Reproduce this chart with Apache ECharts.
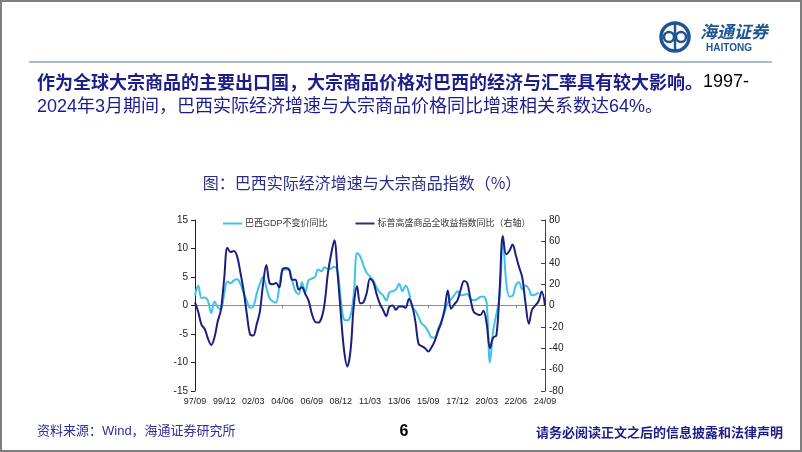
<!DOCTYPE html>
<html>
<head>
<meta charset="utf-8">
<script src="https://cdn.jsdelivr.net/npm/echarts@6/dist/echarts.min.js"></script>
<style>
html,body{margin:0;padding:0;background:#fff;}
#main{width:802px;height:452px;}
</style>
</head>
<body>
<div id="main"></div>
<script>
// ---- Data (quarterly, 1997Q3 .. 2024Q3) ----
const startYear = 1997, startQuarter = 3, endYear = 2024, endQuarter = 3;
const categories = [];
for (let y = startYear; y <= endYear; y++) {
  for (let q = 1; q <= 4; q++) {
    if (y === startYear && q < startQuarter) continue;
    if (y === endYear && q > endQuarter) continue;
    categories.push(String(y).slice(2) + '/' + String(q * 3).padStart(2, '0'));
  }
}
// 巴西GDP不变价同比 (%), left axis
const gdpYoY = [
  1.8, 3.5, 1.3, 1.4, 0.8, -1.3, 0.7, -0.3, -0.7, 2.0,
  4.2, 3.9, 4.4, 4.6, 3.8, 2.2, 0.8, -0.4, -0.2, 2.0,
  3.8, 5.0, 3.2, 1.3, 0.7, 0.5, 3.2, 6.2, 6.3, 6.3,
  4.4, 2.5, 2.0, 4.1, 2.3, 4.4, 4.7, 5.0, 6.3, 6.0,
  6.7, 6.4, 6.5, 6.8, 6.0, 1.0, -2.5, -2.6, -1.8, 2.0,
  9.2, 8.6, 7.0, 5.7, 5.1, 4.4, 3.2, 2.3, 1.8, 0.9,
  2.3, 2.5, 2.8, 3.8, 2.5, 3.5, 2.3, -0.3, -0.9, -2.0,
  -3.2, -3.7, -4.6, -5.6, -5.6, -4.1, -2.8, -1.2, 0.5, 1.1,
  1.8, 2.5, 1.8, 1.9, 2.0, 1.2, 0.9, 1.1, 1.5, 1.6,
  0.4, -10.0, -4.5, -1.5, 1.5, 11.8, 4.3, 1.6, 1.7, 3.6,
  4.1, 2.8, 3.5, 2.9, 1.8, 1.9, 2.3
];
// 标普高盛商品全收益指数同比 (%), right axis
const commodityYoY = [
  3, -6, -18, -22, -31, -37, -30, -15, -4, 25,
  54, 50, 51, 46, 31, 14, -8, -27, -28, -18,
  -6, 20, 38, 21, 20, 21, 17, 34, 35, 34,
  24, 24, 15, 17, 11, 5, -7, -15, -16, -12,
  2, 30, 48, 61, 30, -8, -42, -57, -42, 0,
  18, 2, 3, 12, 25, 22, 11, 2, -4, -10,
  -1, 0, -4, -1, -1, -2, 6, 0, -15, -36,
  -38, -40, -43, -39, -33, -24, -16, -4, 14, -3,
  1, 5, 15, 23, 21, 6, -6, -8, -9, -5,
  -17, -40, -30, -28, 15, 65, 48, 51, 57, 47,
  36, 26, 2, -17, -4, 0, 4, 13, 0
];
const leftTicks = { min: -15, max: 15, interval: 5 };
const rightTicks = { min: -80, max: 80, interval: 20 };
const seriesNames = ['巴西GDP不变价同比', '标普高盛商品全收益指数同比（右轴）'];
const zeroLineTickIdx = [27, 54, 72, 99];

const navy = '#1B1F7E';
const cyan = '#3EC3E6';
const cjk = '"Liberation Sans", Arial, "Noto Sans CJK SC", sans-serif';

const chart = echarts.init(document.getElementById('main'), null, { renderer: 'canvas' });
chart.setOption({
  animation: false,
  backgroundColor: '#ffffff',
  legend: {
    left: 218, top: 214,
    itemGap: 28, itemWidth: 19, itemHeight: 2,
    icon: 'rect',
    textStyle: { fontSize: 9, color: '#333', fontFamily: cjk, padding: [0, 0, 0, -2] },
    data: seriesNames
  },
  grid: { left: 195, right: 257, top: 220, bottom: 61, containLabel: false },
  xAxis: [{
    type: 'category', data: categories, boundaryGap: false,
    axisLine: { show: false, onZero: false },
    axisTick: { show: false },
    axisLabel: { interval: 8, fontSize: 9, color: '#222', margin: 6, fontFamily: cjk }
  }, {
    type: 'category', data: categories, boundaryGap: false, position: 'bottom',
    axisLine: { show: true, onZero: true, onZeroAxisIndex: 0, lineStyle: { color: '#8c8c8c', width: 1 } },
    axisTick: { show: true, length: 3, interval: (i) => zeroLineTickIdx.includes(i), lineStyle: { color: '#8c8c8c' } },
    axisLabel: { show: false }
  }],
  yAxis: [{
    type: 'value', min: leftTicks.min, max: leftTicks.max, interval: leftTicks.interval,
    axisLine: { show: true, lineStyle: { color: '#222', width: 1 } },
    axisTick: { show: true, length: 4, lineStyle: { color: '#222' } },
    axisLabel: { fontSize: 10, color: '#222', margin: 7, fontFamily: cjk },
    splitLine: { show: false }
  }, {
    type: 'value', min: rightTicks.min, max: rightTicks.max, interval: rightTicks.interval, position: 'right',
    axisLine: { show: true, lineStyle: { color: '#3a3a78', width: 1 } },
    axisTick: { show: true, inside: true, length: 4, lineStyle: { color: '#3a3a78' } },
    axisLabel: { fontSize: 10, color: '#222', margin: 4, fontFamily: cjk },
    splitLine: { show: false }
  }],
  series: [{
    name: seriesNames[0], type: 'line', data: gdpYoY, yAxisIndex: 0, xAxisIndex: 0,
    smooth: 0.35, showSymbol: false, z: 2,
    lineStyle: { color: cyan, width: 2 }, itemStyle: { color: cyan }
  }, {
    name: seriesNames[1], type: 'line', data: commodityYoY, yAxisIndex: 1, xAxisIndex: 0,
    smooth: 0.35, showSymbol: false, z: 3,
    lineStyle: { color: navy, width: 2 }, itemStyle: { color: '#2c2f78' }
  }],
  graphic: [
    { type: 'rect', shape: { x: 1, y: 1, width: 800, height: 450 }, style: { fill: 'none', stroke: '#7f7f7f', lineWidth: 2 }, z: 100 },
    // logo
    { type: 'circle', shape: { cx: 675, cy: 37, r: 14 }, style: { fill: 'none', stroke: '#1f5592', lineWidth: 3.5 } },
    { type: 'circle', shape: { cx: 669, cy: 37, r: 5 }, style: { fill: 'none', stroke: '#1f5592', lineWidth: 2.5 } },
    { type: 'circle', shape: { cx: 681, cy: 37, r: 5 }, style: { fill: 'none', stroke: '#1f5592', lineWidth: 2.5 } },
    { type: 'line', shape: { x1: 675, y1: 24, x2: 675, y2: 50 }, style: { stroke: '#1f5592', lineWidth: 2.5 } },
    { type: 'text', x: 700, y: 32, style: { text: '海通证券', font: 'italic bold 17px "Noto Sans CJK SC"', fill: '#1f5592', textVerticalAlign: 'middle' } },
    { type: 'text', x: 706, y: 48, style: { text: 'HAITONG', font: 'bold 10px "Liberation Sans", Arial', fill: '#1f5592', textVerticalAlign: 'middle' } },
    { type: 'line', shape: { x1: 29, y1: 62, x2: 772, y2: 62 }, style: { stroke: '#8ea3c2', lineWidth: 1.5 } },
    // headline
    { type: 'text', x: 37, y: 82, style: {
        text: '{b|作为全球大宗商品的主要出口国，大宗商品价格对巴西的经济与汇率具有较大影响。}{n|1997-}',
        textVerticalAlign: 'middle',
        rich: {
          b: { font: 'bold 18px "Noto Sans CJK SC"', fill: '#1d1d8a', fontWeight: 'bold', fontSize: 18, fontFamily: 'Noto Sans CJK SC', color: '#1d1d8a' },
          n: { fontSize: 18, fontFamily: '"Liberation Sans", Arial', color: '#1d1d8a' }
        }
    } },
    { type: 'text', x: 37, y: 107, style: {
        text: '2024年3月期间，巴西实际经济增速与大宗商品价格同比增速相关系数达64%。',
        font: '18px "Liberation Sans", "Noto Sans CJK SC"', fill: '#1d1d8a', textVerticalAlign: 'middle'
    } },
    // chart title
    { type: 'text', x: 362, y: 183, style: {
        text: '图：巴西实际经济增速与大宗商品指数（%）',
        font: '16px "Noto Sans CJK SC"', fill: '#2b2b8c', textAlign: 'center', textVerticalAlign: 'middle'
    } },
    // footer
    { type: 'text', x: 37, y: 431, style: { text: '资料来源：Wind，海通证券研究所', font: '13px "Liberation Sans", "Noto Sans CJK SC"', fill: '#2e2e9a', textVerticalAlign: 'middle' } },
    { type: 'text', x: 404, y: 432, style: { text: '6', font: 'bold 16px "Liberation Sans", Arial', fill: '#000', textAlign: 'center', textVerticalAlign: 'middle' } },
    { type: 'text', x: 783, y: 432, style: { text: '请务必阅读正文之后的信息披露和法律声明', font: 'bold 13px "Noto Sans CJK SC"', fill: '#1d1d8a', textAlign: 'right', textVerticalAlign: 'middle' } }
  ]
});
</script>
</body>
</html>
